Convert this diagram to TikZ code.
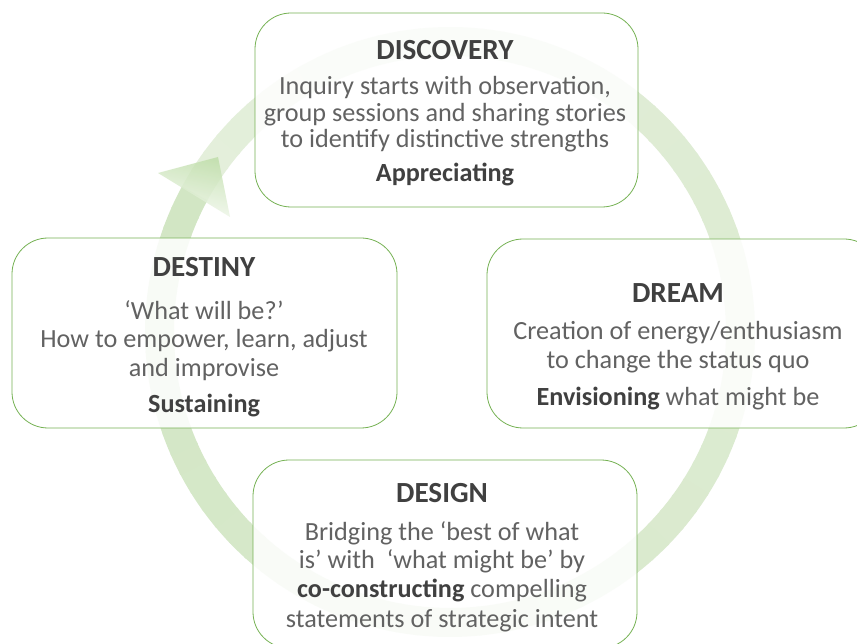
\documentclass[tikz,border=0pt]{standalone}
\usepackage{fontspec}
\setmainfont{Carlito}
\usetikzlibrary{calc}
\definecolor{bordc}{RGB}{118,178,84}
\definecolor{bodyc}{RGB}{98,98,98}
\definecolor{titlec}{RGB}{64,64,64}
\definecolor{ringA}{RGB}{228,239,219}
\definecolor{ringB}{RGB}{210,230,196}
\definecolor{headA}{RGB}{190,221,168}
\definecolor{headB}{RGB}{244,249,240}
\begin{document}
\begin{tikzpicture}[x=1pt,y=-1pt,
  box/.style={draw=bordc, line width=0.8pt, rounded corners=36pt, fill=white, fill opacity=0.86, draw opacity=1, inner sep=0pt},
  ttl/.style={anchor=base, font=\fontsize{29.2}{33}\selectfont\bfseries, text=titlec, inner sep=0pt},
  bdy/.style={anchor=base, font=\fontsize{26.2}{30}\selectfont, text=bodyc, inner sep=0pt},
  bdb/.style={anchor=base, font=\fontsize{26.2}{30}\selectfont\bfseries, text=titlec, inner sep=0pt}]
\clip (0,0) rectangle (857,644);
\fill[white] (0,0) rectangle (857,644);
% ring
\coordinate (rc) at (450,332);
\foreach \i in {0,...,89}{
  \pgfmathsetmacro\a{208+4*\i}
  \pgfmathsetmacro\b{\a+4.5}
  \pgfmathtruncatemacro\p{100*\i/89}
  \fill[ringB!\p!ringA] ($(rc)+(\a:305)$) arc[start angle=\a, end angle=\b, radius=305]
     -- ($(rc)+(\b:276)$) arc[start angle=\b, end angle=\a, radius=276] -- cycle;
}
% arrow head
\coordinate (hout) at (158,173);
\coordinate (htip) at (218,157);
\coordinate (hin) at (230,217);
\shade[top color=headA, bottom color=headB, shading angle=-12, opacity=0.8] (hout) -- (htip) -- (hin) -- cycle;
% boxes
\node[box, minimum width=383, minimum height=194] (disc) at (446.5,110) {};
\node[box, minimum width=385, minimum height=190] (dest) at (204.5,333) {};
\node[box, minimum width=393, minimum height=189] (dream) at (683.5,333.5) {};
\node[box, minimum width=384, minimum height=188] (design) at (445,554) {};
% DISCOVERY
\node[ttl] (disc0) at (445,60) {DISCOVERY};
\node[bdy] (disc1) at (445,95) {Inquiry starts with observation,};
\node[bdy] (disc2) at (445,122) {group sessions and sharing stories};
\node[bdy] (disc3) at (445,148) {to identify distinctive strengths};
\node[bdb] (disc4) at (445,182) {Appreciating};
% DESTINY
\node[ttl] (dest0) at (204,277) {DESTINY};
\node[bdy] (dest1) at (204,320) {‘What will be?’};
\node[bdy] (dest2) at (204,348) {How to empower, learn, adjust};
\node[bdy] (dest3) at (204,377) {and improvise};
\node[bdb] (dest4) at (204,412) {Sustaining};
% DREAM
\node[ttl] (dream0) at (678,303) {DREAM};
\node[bdy] (dream1) at (678,340) {Creation of energy/enthusiasm};
\node[bdy] (dream2) at (678,368) {to change the status quo};
\node[bdy] (dream3) at (678,405) {{\color{titlec}\bfseries Envisioning} what might be};
% DESIGN
\node[ttl] (design0) at (442,502) {DESIGN};
\node[bdy] (design1) at (442,540) {Bridging the ‘best of what};
\node[bdy] (design2) at (442,568) {is’ with\ \ ‘what might be’ by};
\node[bdy] (design3) at (442,597) {{\color{titlec}\bfseries co-constructing} compelling};
\node[bdy] (design4) at (442,627) {statements of strategic intent};
\end{tikzpicture}
\end{document}
